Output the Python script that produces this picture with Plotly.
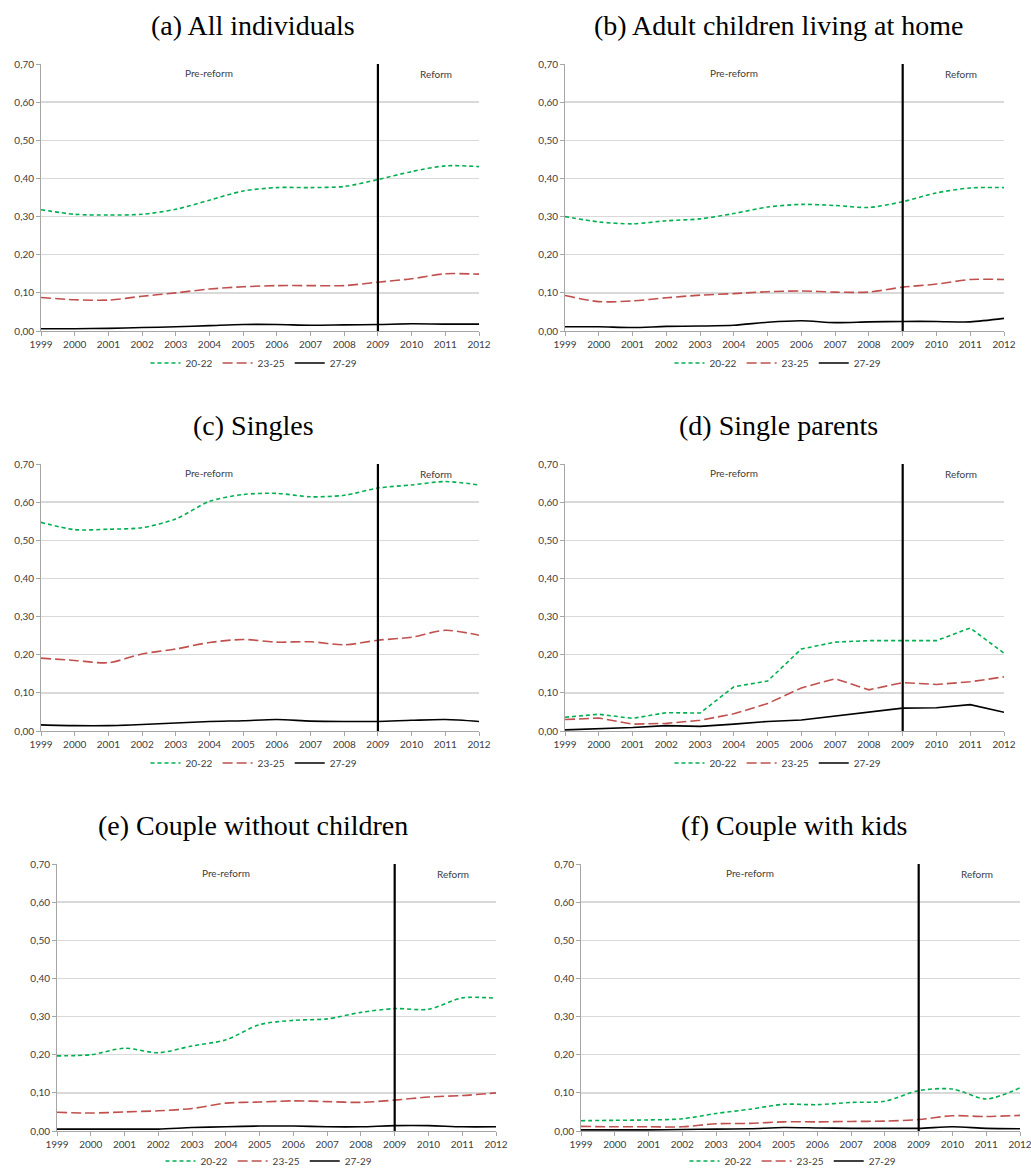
import plotly.graph_objects as go

YEARS = list(range(1999, 2013))
SERIES_NAMES = ["20-22", "23-25", "27-29"]
REFORM_YEAR = 2009

TITLES = ["(a) All individuals", "(b) Adult children living at home", "(c) Singles",
          "(d) Single parents", "(e) Couple without children", "(f) Couple with kids"]

# (a) All individuals
a_20_22 = [0.318, 0.306, 0.304, 0.306, 0.319, 0.343, 0.367, 0.376, 0.376, 0.379, 0.397, 0.418, 0.433, 0.431]
a_23_25 = [0.088, 0.082, 0.081, 0.091, 0.100, 0.110, 0.116, 0.119, 0.119, 0.119, 0.128, 0.137, 0.150, 0.149]
a_27_29 = [0.006, 0.006, 0.007, 0.009, 0.011, 0.014, 0.017, 0.017, 0.015, 0.016, 0.017, 0.019, 0.018, 0.018]
# (b) Adult children living at home
b_20_22 = [0.300, 0.286, 0.281, 0.289, 0.294, 0.308, 0.325, 0.332, 0.329, 0.324, 0.339, 0.362, 0.375, 0.376]
b_23_25 = [0.093, 0.077, 0.079, 0.087, 0.094, 0.098, 0.103, 0.105, 0.102, 0.102, 0.115, 0.123, 0.135, 0.135]
b_27_29 = [0.011, 0.011, 0.009, 0.012, 0.013, 0.015, 0.023, 0.027, 0.022, 0.024, 0.025, 0.025, 0.024, 0.033]
# (c) Singles
c_20_22 = [0.547, 0.528, 0.529, 0.533, 0.556, 0.602, 0.620, 0.623, 0.614, 0.618, 0.637, 0.645, 0.654, 0.645]
c_23_25 = [0.191, 0.185, 0.179, 0.202, 0.215, 0.232, 0.240, 0.233, 0.234, 0.226, 0.238, 0.246, 0.264, 0.251]
c_27_29 = [0.016, 0.014, 0.014, 0.017, 0.021, 0.025, 0.027, 0.030, 0.026, 0.025, 0.025, 0.028, 0.030, 0.025]
# (d) Single parents
d_20_22 = [0.036, 0.044, 0.033, 0.048, 0.047, 0.116, 0.131, 0.215, 0.233, 0.237, 0.237, 0.237, 0.270, 0.204]
d_23_25 = [0.030, 0.034, 0.018, 0.020, 0.028, 0.045, 0.072, 0.113, 0.137, 0.108, 0.127, 0.122, 0.129, 0.142]
d_27_29 = [0.003, 0.005, 0.009, 0.014, 0.012, 0.018, 0.025, 0.029, 0.039, 0.051, 0.060, 0.061, 0.069, 0.049]
# (e) Couple without children
e_20_22 = [0.197, 0.200, 0.217, 0.205, 0.223, 0.239, 0.279, 0.290, 0.294, 0.311, 0.321, 0.319, 0.349, 0.348]
e_23_25 = [0.049, 0.047, 0.050, 0.053, 0.059, 0.073, 0.076, 0.079, 0.077, 0.075, 0.081, 0.089, 0.093, 0.100]
e_27_29 = [0.005, 0.005, 0.005, 0.005, 0.009, 0.011, 0.013, 0.013, 0.011, 0.011, 0.014, 0.014, 0.011, 0.011]
# (f) Couple with kids
f_20_22 = [0.027, 0.028, 0.029, 0.032, 0.046, 0.057, 0.070, 0.069, 0.075, 0.078, 0.106, 0.110, 0.084, 0.113]
f_23_25 = [0.012, 0.011, 0.011, 0.011, 0.019, 0.020, 0.024, 0.024, 0.025, 0.026, 0.030, 0.040, 0.038, 0.041]
f_27_29 = [0.003, 0.003, 0.003, 0.004, 0.005, 0.006, 0.009, 0.008, 0.007, 0.007, 0.007, 0.011, 0.007, 0.006]

PANELS = [
    (a_20_22, a_23_25, a_27_29),
    (b_20_22, b_23_25, b_27_29),
    (c_20_22, c_23_25, c_27_29),
    (d_20_22, d_23_25, d_27_29),
    (e_20_22, e_23_25, e_27_29),
    (f_20_22, f_23_25, f_27_29),
]
SHAPES = ["spline", "spline", "spline", "linear", "spline", "spline"]

W, H = 1031, 1171
# pixel boxes of each plot area: (left, right, top, bottom)
BOXES = [
    (41, 479, 64, 331), (565, 1004, 64, 331),
    (41, 479, 464, 731), (565, 1004, 464, 731),
    (57, 496, 864, 1131), (581, 1020, 864, 1131),
]
TITLE_POS = [(253, 25), (778, 25), (253, 425), (778, 425), (253, 825), (794, 825)]
LEGEND_POS = [(254, 363), (778, 363), (254, 763), (778, 763), (269, 1161), (793, 1161)]


def px(x):
    return x / W


def py(y):
    return 1 - y / H


COLORS = ["#00B050", "#C0504D", "#000000"]
DASHES = ["4px,3px", "10px,4px", "solid"]
TICKFONT = dict(family="Lato, Open Sans, sans-serif", size=10, color="#404040")

fig = go.Figure()
layout = dict(
    width=W, height=H, margin=dict(l=0, r=0, t=0, b=0, autoexpand=False),
    paper_bgcolor="white", plot_bgcolor="white",
    separators=",.", showlegend=True,
    annotations=[], shapes=[],
)

for i, (vals, shape) in enumerate(zip(PANELS, SHAPES)):
    n = i + 1
    xa = "x" if n == 1 else f"x{n}"
    ya = "y" if n == 1 else f"y{n}"
    lg = "legend" if n == 1 else f"legend{n}"
    for j, series in enumerate(vals):
        fig.add_trace(go.Scatter(
            x=YEARS, y=series, mode="lines", name=SERIES_NAMES[j],
            xaxis=xa, yaxis=ya, legend=lg,
            line=dict(color=COLORS[j], width=1.6, dash=DASHES[j], shape=shape,
                      smoothing=0.8 if shape == "spline" else None),
        ))
    l, r, t, b = BOXES[i]
    xkey = "xaxis" if n == 1 else f"xaxis{n}"
    ykey = "yaxis" if n == 1 else f"yaxis{n}"
    layout[xkey] = dict(
        domain=[px(l), px(r)], anchor=ya, range=[YEARS[0], YEARS[-1]],
        tickmode="array", tickvals=YEARS, ticktext=[str(y) for y in YEARS],
        ticks="outside", ticklen=4, tickcolor="#A6A6A6",
        showline=True, linecolor="#A6A6A6", linewidth=1,
        showgrid=False, zeroline=False, tickfont=TICKFONT, fixedrange=True,
        automargin=False, ticklabeloverflow="allow",
    )
    layout[ykey] = dict(
        domain=[py(b), py(t)], anchor=xa, range=[0, 0.70],
        dtick=0.1, tick0=0, tickformat=".2f",
        ticks="outside", ticklen=4, tickcolor="#A6A6A6",
        showline=True, linecolor="#A6A6A6", linewidth=1,
        showgrid=True, gridcolor="#D9D9D9", gridwidth=1.3,
        zeroline=False, tickfont=TICKFONT, fixedrange=True,
        automargin=False,
    )
    layout[lg] = dict(
        orientation="h", x=px(LEGEND_POS[i][0]), y=py(LEGEND_POS[i][1]),
        xanchor="center", yanchor="middle", font=TICKFONT,
        bgcolor="rgba(0,0,0,0)", itemwidth=30, tracegroupgap=0,
        borderwidth=0,
    )
    # reform line
    layout["shapes"].append(dict(
        type="line", xref=xa, yref=ya, x0=REFORM_YEAR, x1=REFORM_YEAR, y0=0, y1=0.70,
        line=dict(color="black", width=2.2),
    ))
    # text annotations
    layout["annotations"].append(dict(
        text="Pre-reform", xref=xa, yref=ya, x=2004, y=0.677, showarrow=False,
        font=dict(family="Lato, Open Sans, sans-serif", size=10, color="#404040"),
    ))
    layout["annotations"].append(dict(
        text="Reform", xref=xa, yref=ya, x=2010.73, y=0.675, showarrow=False,
        font=dict(family="Lato, Open Sans, sans-serif", size=10, color="#404040"),
    ))
    tx, ty = TITLE_POS[i]
    layout["annotations"].append(dict(
        text=TITLES[i], xref="paper", yref="paper", x=px(tx), y=py(ty),
        xanchor="center", yanchor="middle", showarrow=False,
        font=dict(family="Liberation Serif, serif", size=28, color="black"),
    ))

fig.update_layout(**layout)
fig.write_html(
    "out.html",
    config={"displayModeBar": False, "staticPlot": True},
    post_script="document.body.style.margin='0px';document.body.style.overflow='hidden';",
)
